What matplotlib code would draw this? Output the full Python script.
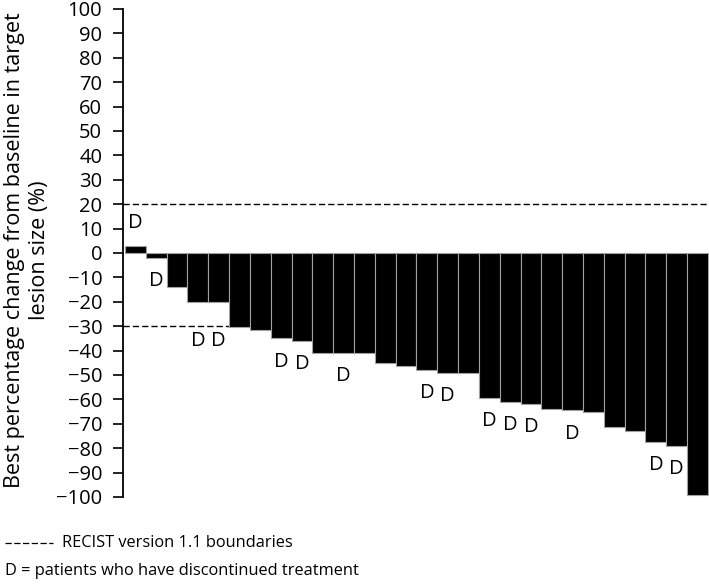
import matplotlib
matplotlib.use("Agg")
import matplotlib.pyplot as plt
from matplotlib.lines import Line2D
import numpy as np

plt.rcParams["font.family"] = ["Open Sans", "DejaVu Sans"]

# best % change in target lesion size, one bar per patient (sorted)
changes = [3, -2, -14, -20, -20, -30.5, -31.5, -35, -36, -41, -41, -41, -45, -46.5,
           -48, -49, -49, -59.5, -61, -62, -64, -64.5, -65, -71.5, -73, -77.5, -79, -99]
# patients who discontinued treatment (bar indices)
discontinued = [0, 1, 3, 4, 7, 8, 10, 14, 15, 17, 18, 19, 21, 25, 26]
# RECIST 1.1 boundaries
recist_upper = 20
recist_lower = -30
yticks = list(range(-100, 101, 10))

W, H = 709, 584
fig = plt.figure(figsize=(W / 100, H / 100), dpi=100)
ax = fig.add_axes([123 / W, 87 / H, 586 / W, 488 / H])

x = np.arange(len(changes))
ax.bar(x, changes, width=1.0, color="black", edgecolor="#a0a0a0", linewidth=0.8, zorder=2)

for yv in (recist_upper, recist_lower):
    ax.axhline(yv, color="black", linewidth=1.0, dashes=(4.5, 2.2), zorder=1)

for i in discontinued:
    v = changes[i]
    ly = v + 9.5 if v > 0 else v - 9.5
    if abs(ly - recist_lower) < 6:
        ly = recist_lower - 6
    ax.text(i, ly, "D", ha="center", va="center", fontsize=14.5)

ax.set_xlim(-0.596, 27.55)
ax.set_ylim(-100, 100)
ax.set_yticks(yticks)
ax.set_xticks([])
ax.tick_params(axis="y", length=7, width=1.2, pad=8, labelsize=14.5)
for s in ("top", "right", "bottom"):
    ax.spines[s].set_visible(False)
ax.spines["left"].set_linewidth(1.3)

fig.text(27 / W, 1 - 250 / H,
         "Best percentage change from baseline in target\nlesion size (%)",
         rotation=90, ha="center", va="center", multialignment="center",
         fontsize=15.5, linespacing=1.2)

# footnotes
fig.add_artist(Line2D([5 / W, 53 / W], [1 - 543 / H, 1 - 543 / H], color="black",
                      linewidth=0.9, dashes=(5, 2), transform=fig.transFigure))
fig.text(62 / W, 1 - 543 / H, "RECIST version 1.1 boundaries",
         ha="left", va="center", fontsize=11.8)
fig.text(5 / W, 1 - 571 / H, "D = patients who have discontinued treatment",
         ha="left", va="center", fontsize=11.8)

fig.savefig("out.png", dpi=100)
